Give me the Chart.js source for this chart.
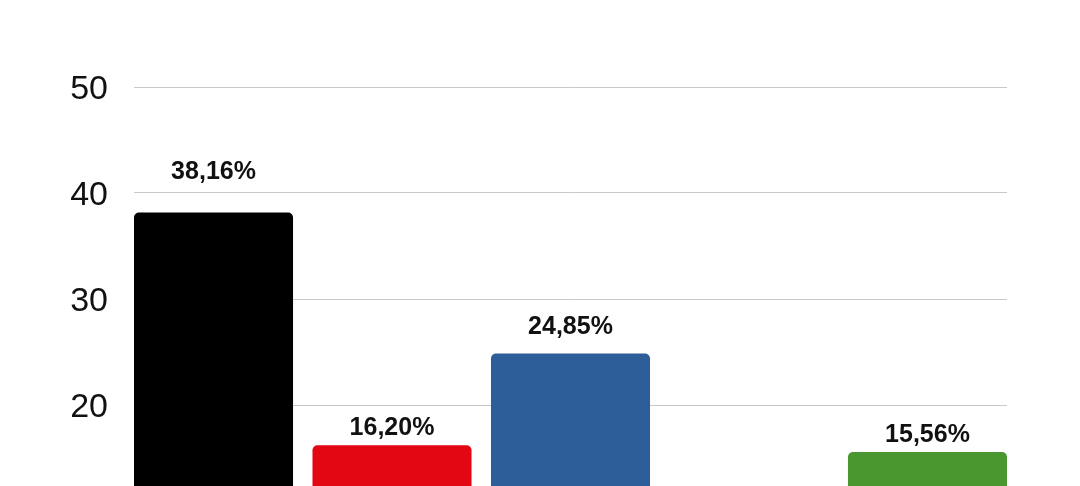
<!DOCTYPE html>
<html>
<head>
<meta charset="utf-8">
<script src="https://cdn.jsdelivr.net/npm/chart.js@4.4.1/dist/chart.umd.min.js"></script>
<style>
  html, body { margin: 0; padding: 0; background: #fff; overflow: hidden; }
  #wrap { width: 1080px; height: 680px; }
</style>
</head>
<body>
<div id="wrap"><canvas id="chart" width="1080" height="680"></canvas></div>
<script>
// data (4th bar is below the crop: 100 - the others)
const categories = ['A', 'B', 'C', 'D', 'E'];
const values = [38.16, 16.20, 24.85, 5.23, 15.56];
const barColors = ['#000000', '#e30613', '#2e5e99', '#8a8a8a', '#4a962f'];
const yMin = 0;
const yMax = 50;
const yStep = 10;

const FONT = '"Liberation Sans", Arial, Helvetica, sans-serif';

// percentage labels over each bar
const valueLabels = {
  id: 'valueLabels',
  afterDatasetsDraw(chart) {
    const ctx = chart.ctx;
    const meta = chart.getDatasetMeta(0);
    const y = chart.scales.y;
    ctx.save();
    ctx.font = 'bold 25px ' + FONT;
    ctx.fillStyle = '#111';
    ctx.textAlign = 'center';
    ctx.textBaseline = 'middle';
    meta.data.forEach((bar, i) => {
      const txt = values[i].toFixed(2).replace('.', ',') + '%';
      ctx.fillText(txt, bar.x, y.getPixelForValue(values[i] * 1.1));
    });
    ctx.restore();
  }
};

new Chart(document.getElementById('chart'), {
  type: 'bar',
  data: {
    datasets: [{
      label: 'Voti',
      data: values.map((v, i) => ({ x: i, y: v })),
      backgroundColor: barColors,
      borderRadius: 5,
      borderSkipped: 'start',
      categoryPercentage: 1,
      barPercentage: 0.891
    }]
  },
  options: {
    responsive: false,
    animation: false,
    layout: { padding: { left: 0, right: 73, top: 87, bottom: 63 } },
    plugins: { legend: { display: false }, tooltip: { enabled: false } },
    scales: {
      x: {
        type: 'linear',
        offset: false,
        min: -0.4455,
        max: categories.length - 1 + 0.4455,
        display: false,
        // one tick per category so the bar width follows the category spacing
        afterBuildTicks(scale) { scale.ticks = categories.map((c, i) => ({ value: i })); }
      },
      y: {
        min: yMin,
        max: yMax,
        ticks: {
          stepSize: yStep,
          padding: 26,
          labelOffset: 3,
          color: '#111',
          font: { family: FONT, size: 34 }
        },
        grid: { color: '#c8c8c8', lineWidth: 1, drawTicks: false },
        border: { display: false },
        afterFit(scale) { scale.width = 134; }
      }
    }
  },
  plugins: [valueLabels]
});
</script>
</body>
</html>
